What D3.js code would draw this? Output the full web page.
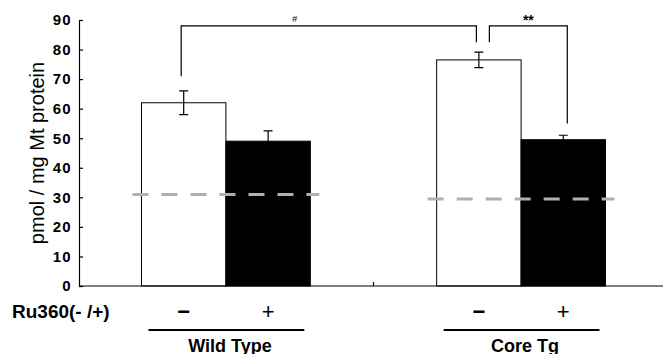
<!DOCTYPE html>
<meta charset="utf-8">
<style>
body { margin: 0; background: #fff; }
svg { display: block; font-family: "Liberation Sans", Arial, sans-serif; }
.bar { stroke: #000; stroke-width: 1px; }
.err, .bracket, .axis-line { stroke: #000; stroke-width: 1.2px; fill: none; }
.ref { stroke: #b0b0b0; stroke-width: 3px; stroke-dasharray: 16,13; }
</style>
<svg width="663" height="354"></svg>
<script src="https://cdn.jsdelivr.net/npm/d3@7"></script>
<script>
// values
var groups = ["Wild Type", "Core Tg"];
var treatments = ["\u2212", "+"];
var wtMeans = [62, 49];
var wtErrors = [4, 3.5];
var ctMeans = [76.5, 49.5];
var ctErrors = [2.6, 1.5];
var baselines = [31, 29.4];      // dashed line per group
var yTicks = [0, 10, 20, 30, 40, 50, 60, 70, 80, 90];
var brackets = [
  {from: 0, to: 2, top: 88, legFrom: 71, legTo: 82.5, label: "#"},
  {from: 2, to: 3, top: 88, legFrom: 82.5, legTo: 55, label: "**"}
];

var data = [];
[wtMeans, ctMeans].forEach(function(m, gi) {
  var errs = gi === 0 ? wtErrors : ctErrors;
  m.forEach(function(v, ti) {
    data.push({group: groups[gi], treat: treatments[ti], mean: v, err: errs[ti]});
  });
});

var svg = d3.select("svg");

var x0 = d3.scaleBand().domain(groups).range([79, 668]).paddingInner(0.428).paddingOuter(0.2117),
    x1 = d3.scaleBand().domain(treatments).range([0, x0.bandwidth()]).padding(0),
    y = d3.scaleLinear().domain([0, 90]).range([286, 20]);

function cx(d) { return x0(d.group) + x1(d.treat) + x1.bandwidth() / 2; }

// y axis, ticks pointing inward
var yAxis = svg.append("g")
    .attr("transform", "translate(79,0)")
    .call(d3.axisLeft(y).tickValues(yTicks).tickSizeInner(-4).tickSizeOuter(0).tickPadding(7));
yAxis.selectAll("path, line").attr("stroke", "#000").attr("stroke-width", 1.2);
yAxis.selectAll("text")
    .attr("fill", "#000")
    .style("font-size", "15px")
    .style("font-weight", "bold")
    .style("letter-spacing", "1.3px")
    .style("font-family", "'Liberation Sans', Arial, sans-serif");

svg.append("text")
    .attr("transform", "rotate(-90)")
    .attr("x", -(y(0) + y(90)) / 2)
    .attr("y", 43.5)
    .attr("text-anchor", "middle")
    .style("font-size", "20px")
    .text("pmol / mg Mt protein");

// bars
svg.selectAll(".bar")
  .data(data)
  .enter().append("rect")
    .attr("class", "bar")
    .attr("x", function(d) { return x0(d.group) + x1(d.treat); })
    .attr("y", function(d) { return y(d.mean); })
    .attr("width", x1.bandwidth())
    .attr("height", function(d) { return y(0) - y(d.mean); })
    .attr("fill", function(d) { return d.treat === "+" ? "#000" : "#fff"; });

// x axis line and group divider tick
svg.append("line").attr("class", "axis-line")
    .attr("x1", 79).attr("x2", 663).attr("y1", y(0)).attr("y2", y(0));
var mid = (x0(groups[0]) + x0.bandwidth() + x0(groups[1])) / 2;
svg.append("line").attr("class", "axis-line")
    .attr("x1", mid).attr("x2", mid).attr("y1", y(0)).attr("y2", y(0) - 4);

// dashed reference levels
svg.selectAll(".ref")
  .data(groups)
  .enter().append("line")
    .attr("class", "ref")
    .attr("x1", function(g) { return x0(g) - 9; })
    .attr("x2", function(g) { return x0(g) + x0.bandwidth() + 9; })
    .attr("y1", function(g, i) { return y(baselines[i]); })
    .attr("y2", function(g, i) { return y(baselines[i]); });

// error bars
var eb = svg.selectAll(".eb").data(data).enter().append("g").attr("class", "eb");
eb.append("path")
    .attr("class", "err")
    .attr("d", function(d) {
      var c = cx(d), t = y(d.mean + d.err), b = y(d.mean - d.err);
      return "M" + (c - 4.5) + "," + t + "H" + (c + 4.5) +
             "M" + c + "," + t + "V" + b +
             "M" + (c - 4.5) + "," + b + "H" + (c + 4.5);
    });

// significance brackets
var bx = [
  [-2.5, -2.5],
  [10.5, 4]
];
brackets.forEach(function(b, i) {
  var xa = cx(data[b.from]) + bx[i][0],
      xb = cx(data[b.to]) + bx[i][1];
  svg.append("path")
      .attr("class", "bracket")
      .attr("d", "M" + xa + "," + y(b.legFrom) + "V" + y(b.top) + "H" + xb + "V" + y(b.legTo));
  svg.append("text")
      .attr("x", (xa + xb) / 2 + (i === 0 ? -34 : 0))
      .attr("y", y(b.top) - (i === 0 ? 4 : 1))
      .attr("text-anchor", "middle")
      .style("font-size", i === 0 ? "9px" : "14px")
      .style("font-weight", i === 0 ? "normal" : "bold")
      .text(b.label);
});

// treatment row
svg.append("text")
    .attr("x", 12)
    .attr("y", 317.5)
    .style("font-size", "19px")
    .style("font-weight", "bold")
    .text("Ru360(- /+)");

svg.selectAll(".treat")
  .data(data)
  .enter().append("text")
    .attr("class", "treat")
    .attr("x", cx)
    .attr("y", 319)
    .attr("text-anchor", "middle")
    .style("font-size", "22px")
    .style("font-weight", function(d) { return d.treat === "+" ? "normal" : "bold"; })
    .text(function(d) { return d.treat; });

// group underline + name
svg.selectAll(".uline")
  .data(groups)
  .enter().append("line")
    .attr("x1", function(g) { return x0(g) + 7; })
    .attr("x2", function(g) { return x0(g) + x0.bandwidth() - 6; })
    .attr("y1", 330).attr("y2", 330)
    .attr("stroke", "#000").attr("stroke-width", 2.2);

svg.selectAll(".gname")
  .data(groups)
  .enter().append("text")
    .attr("x", function(g) { return x0(g) + x0.bandwidth() / 2 + 4; })
    .attr("y", 351.5)
    .attr("text-anchor", "middle")
    .style("font-size", "18px")
    .style("font-weight", "bold")
    .text(function(g) { return g; });
</script>
